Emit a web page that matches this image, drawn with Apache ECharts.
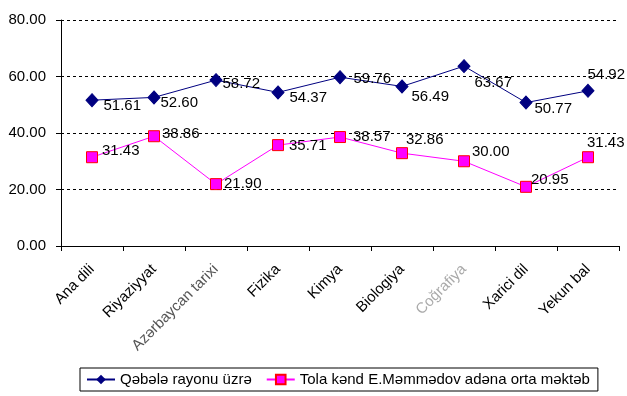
<!DOCTYPE html>
<html><head><meta charset="utf-8">
<script src="https://cdn.jsdelivr.net/npm/echarts@6/dist/echarts.min.js"></script>
<style>html,body{margin:0;padding:0;background:#fff}#c{width:627px;height:396px}</style>
</head><body><div id="c"></div>
<script>
var categories = ["Ana dili","Riyaziyyat","Azərbaycan tarixi","Fizika","Kimya","Biologiya","Coğrafiya","Xarici dil","Yekun bal"];
var seriesNames = ["Qəbələ rayonu üzrə","Tola kənd E.Məmmədov adəna orta məktəb"];
var qebele = [51.61,52.60,58.72,54.37,59.76,56.49,63.67,50.77,54.92];
var tola = [31.43,38.86,21.90,35.71,38.57,32.86,30.00,20.95,31.43];
var yTicks = [0,20,40,60,80];

// label placement offsets (style only)
var off1 = [[0,6],[-5,5],[-5,4],[0,5],[2,2],[-2,10],[-1,17],[-3,6],[-12,-16]];
var off2 = [[-1,-6],[-3,-2],[-3,0],[0,1],[2,0],[-7,-13],[-3,-9],[-6,-7],[-12,-14]];
var labelColors = ["#000","#000","#555","#000","#000","#000","#aaa","#000","#000"];

function items(vals, offs){
  return vals.map(function(v,i){
    return {value:v, label:{offset:offs[i]}};
  });
}
var font = "Liberation Sans, Arial, sans-serif";
var chart = echarts.init(document.getElementById('c'), null, {renderer:'canvas'});
chart.setOption({
  animation:false,
  backgroundColor:'#fff',
  grid:{left:61,right:8,top:20,bottom:150},
  legend:{
    data:[
      {name:seriesNames[0]},
      {name:seriesNames[1]}
    ],
    left:80, top:368, width:532,
    borderColor:'#000', borderWidth:1, padding:[4,8,4,6],
    itemWidth:28, itemHeight:12, itemGap:14,
    textStyle:{fontFamily:font,fontSize:15,color:'#000'}
  },
  xAxis:{
    type:'category', data:categories, boundaryGap:true,
    axisLine:{lineStyle:{color:'#000',width:1}},
    axisTick:{show:true,length:5,lineStyle:{color:'#000'}},
    axisLabel:{rotate:45,interval:0,margin:21,fontFamily:font,fontSize:15,
      color:function(v,i){return labelColors[i];}}
  },
  yAxis:{
    type:'value', min:yTicks[0], max:yTicks[yTicks.length-1], interval:20,
    axisLine:{show:true,lineStyle:{color:'#000'}},
    axisTick:{show:true,length:5,lineStyle:{color:'#000'}},
    axisLabel:{fontFamily:font,fontSize:15,color:'#000',margin:15,
      formatter:function(v){return v.toFixed(2);}},
    splitLine:{show:true,lineStyle:{color:'#000',type:[3,3],width:1}}
  },
  series:[
    {name:seriesNames[0],type:'line',data:items(qebele,off1),
     symbol:'diamond',symbolSize:[12,13],
     lineStyle:{color:'#000080',width:1},
     itemStyle:{color:'#000080',borderColor:'#000080'},
     label:{show:true,position:'right',distance:5,fontFamily:font,fontSize:15,color:'#000',
       formatter:function(p){return p.value.toFixed(2);}}
    },
    {name:seriesNames[1],type:'line',data:items(tola,off2),
     symbol:'rect',symbolSize:11,
     lineStyle:{color:'#ff00ff',width:1},
     itemStyle:{color:'#ff00ff',borderColor:'#ff0000',borderWidth:1},
     label:{show:true,position:'right',distance:5,fontFamily:font,fontSize:15,color:'#000',
       formatter:function(p){return p.value.toFixed(2);}}
    }
  ]
});
</script></body></html>
